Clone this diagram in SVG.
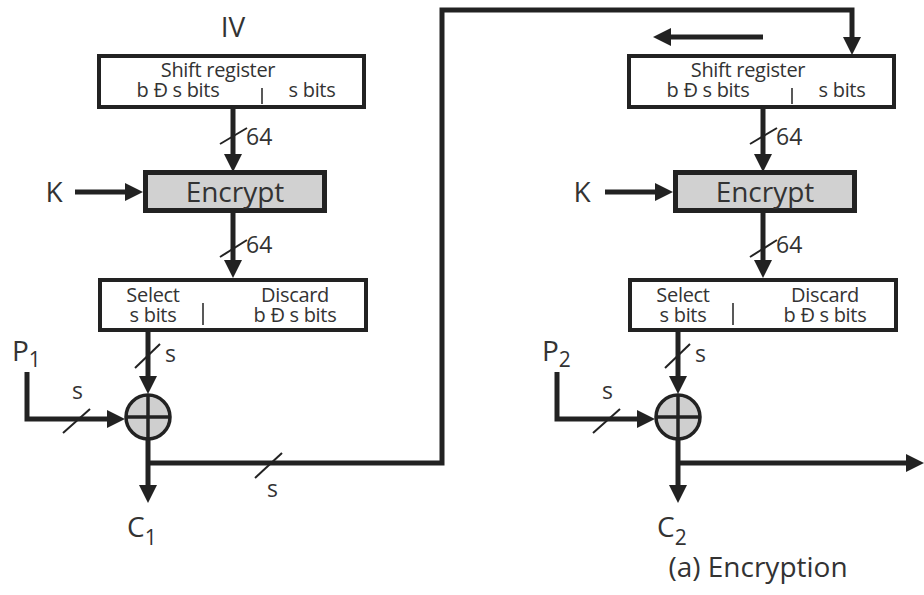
<svg xmlns="http://www.w3.org/2000/svg" width="924" height="595" viewBox="0 0 924 595">
<style>
  text { font-family: "Open Sans", "Liberation Sans", sans-serif; fill: #333; }
  .box { fill: #fff; stroke: #222; stroke-width: 4; }
  .enc { fill: #d1d1d1; stroke: #222; stroke-width: 5; }
  .sm { font-size: 20px; text-anchor: middle; letter-spacing: -0.3px; }
  .div { stroke: #222; stroke-width: 1.5; }
  .ln { fill: none; stroke: #222; stroke-width: 5; }
  .sl { stroke: #222; stroke-width: 2; }
  .lbl { font-size: 23px; }
  .big { font-size: 28px; }
  .sub { font-size: 21px; }
  .xor { fill: #cfcfcf; stroke: #222; stroke-width: 3.5; }
  .xl { stroke: #222; stroke-width: 3.5; }
</style>
<defs>
  <marker id="ah" markerUnits="userSpaceOnUse" markerWidth="20" markerHeight="20" refX="8" refY="9" orient="auto" viewBox="0 0 20 20">
    <path d="M0,0 L18,9 L0,18 z" fill="#222"/>
  </marker>
</defs>

<g id="connectors">
  <!-- left -->
  <path class="ln" d="M233,109 V162" marker-end="url(#ah)"/>
  <line class="sl" x1="220" y1="144" x2="247" y2="128"/>
  <path class="ln" d="M75,192 H133" marker-end="url(#ah)"/>
  <path class="ln" d="M233,213 V268" marker-end="url(#ah)"/>
  <line class="sl" x1="220" y1="257" x2="247" y2="240"/>
  <path class="ln" d="M148,332 V384" marker-end="url(#ah)"/>
  <line class="sl" x1="135" y1="368" x2="160" y2="344"/>
  <path class="ln" d="M27,372 V419 H115" marker-end="url(#ah)"/>
  <line class="sl" x1="63" y1="433" x2="90" y2="409"/>
  <path class="ln" d="M148,439 V493" marker-end="url(#ah)"/>
  <path class="ln" d="M148,463 H442 V10 H852 V45" marker-end="url(#ah)"/>
  <line class="sl" x1="255" y1="478" x2="282" y2="453"/>
  <!-- right -->
  <path class="ln" d="M763,37 H663" marker-end="url(#ah)"/>
  <path class="ln" d="M763,109 V162" marker-end="url(#ah)"/>
  <line class="sl" x1="750" y1="144" x2="777" y2="128"/>
  <path class="ln" d="M605,192 H663" marker-end="url(#ah)"/>
  <path class="ln" d="M763,213 V268" marker-end="url(#ah)"/>
  <line class="sl" x1="750" y1="257" x2="777" y2="240"/>
  <path class="ln" d="M678,332 V384" marker-end="url(#ah)"/>
  <line class="sl" x1="665" y1="368" x2="690" y2="344"/>
  <path class="ln" d="M557,372 V419 H645" marker-end="url(#ah)"/>
  <line class="sl" x1="593" y1="433" x2="620" y2="409"/>
  <path class="ln" d="M678,439 V493" marker-end="url(#ah)"/>
  <path class="ln" d="M678,463 H914" marker-end="url(#ah)"/>
</g>

<g id="labels">
  <text class="lbl" x="246" y="145">64</text>
  <text class="lbl" x="246" y="253">64</text>
  <text class="lbl" x="165" y="362">s</text>
  <text class="lbl" x="72" y="399">s</text>
  <text class="lbl" x="267" y="497">s</text>
  <text class="lbl" x="776" y="145">64</text>
  <text class="lbl" x="776" y="253">64</text>
  <text class="lbl" x="695" y="362">s</text>
  <text class="lbl" x="602" y="399">s</text>
</g>

<g id="iv"><text class="big" x="233" y="37" text-anchor="middle">IV</text></g>

<g id="shiftreg1">
  <rect class="box" x="99" y="56" width="265" height="51"/>
  <text class="sm" x="218" y="77">Shift register</text>
  <text class="sm" x="178" y="97">b Ð s bits</text>
  <line class="div" x1="262" y1="88" x2="262" y2="104"/>
  <text class="sm" x="312" y="97">s bits</text>
</g>
<g id="encrypt1">
  <rect class="enc" x="145.5" y="172.5" width="179" height="38"/>
  <text class="big" x="235" y="202" text-anchor="middle">Encrypt</text>
</g>
<g id="k1"><text class="big" x="54" y="202" text-anchor="middle">K</text></g>
<g id="select1">
  <rect class="box" x="100" y="280" width="266" height="50"/>
  <text class="sm" x="153" y="302">Select</text>
  <text class="sm" x="153" y="322">s bits</text>
  <line class="div" x1="203" y1="303" x2="203" y2="325"/>
  <text class="sm" x="295" y="302">Discard</text>
  <text class="sm" x="295" y="322">b Ð s bits</text>
</g>
<g id="xor1">
  <circle class="xor" cx="148" cy="417" r="22"/>
  <line class="xl" x1="126" y1="417" x2="170" y2="417"/>
  <line class="xl" x1="148" y1="395" x2="148" y2="439"/>
</g>
<g id="p1"><text class="big" x="12" y="361">P<tspan class="sub" dy="6">1</tspan></text></g>
<g id="c1"><text class="big" x="127" y="537">C<tspan class="sub" dy="8">1</tspan></text></g>

<g id="shiftreg2">
  <rect class="box" x="629" y="56" width="265" height="51"/>
  <text class="sm" x="748" y="77">Shift register</text>
  <text class="sm" x="708" y="97">b Ð s bits</text>
  <line class="div" x1="792" y1="88" x2="792" y2="104"/>
  <text class="sm" x="842" y="97">s bits</text>
</g>
<g id="encrypt2">
  <rect class="enc" x="675.5" y="172.5" width="179" height="38"/>
  <text class="big" x="765" y="202" text-anchor="middle">Encrypt</text>
</g>
<g id="k2"><text class="big" x="582" y="202" text-anchor="middle">K</text></g>
<g id="select2">
  <rect class="box" x="630" y="280" width="266" height="50"/>
  <text class="sm" x="683" y="302">Select</text>
  <text class="sm" x="683" y="322">s bits</text>
  <line class="div" x1="733" y1="303" x2="733" y2="325"/>
  <text class="sm" x="825" y="302">Discard</text>
  <text class="sm" x="825" y="322">b Ð s bits</text>
</g>
<g id="xor2">
  <circle class="xor" cx="678" cy="417" r="22"/>
  <line class="xl" x1="656" y1="417" x2="700" y2="417"/>
  <line class="xl" x1="678" y1="395" x2="678" y2="439"/>
</g>
<g id="p2"><text class="big" x="542" y="361">P<tspan class="sub" dy="6">2</tspan></text></g>
<g id="c2"><text class="big" x="657" y="537">C<tspan class="sub" dy="8">2</tspan></text></g>

<g id="caption"><text class="big" x="758" y="577" text-anchor="middle">(a) Encryption</text></g>
</svg>
